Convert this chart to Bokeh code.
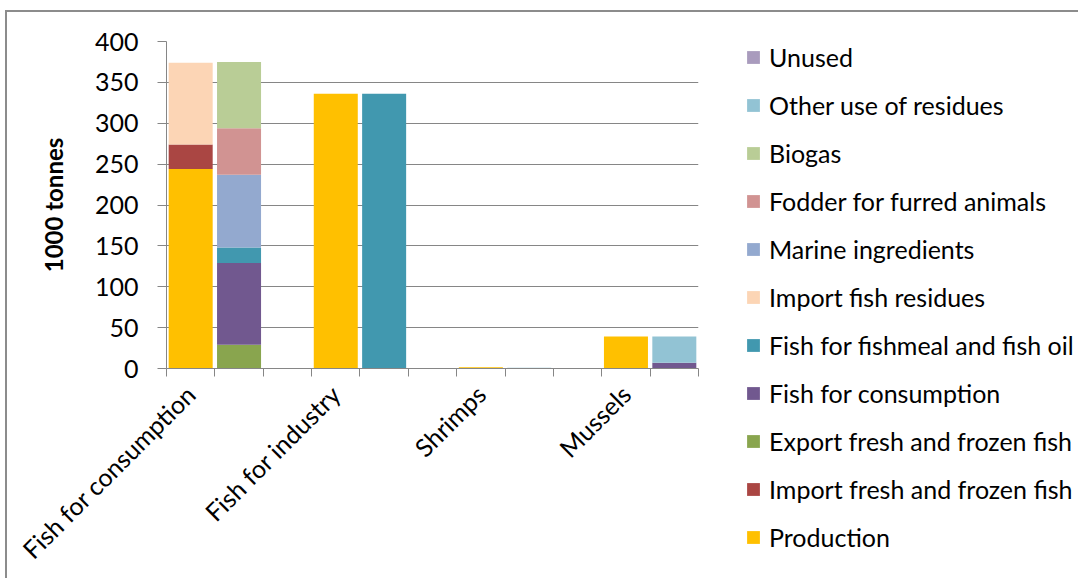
import math
from bokeh.plotting import figure
from bokeh.layouts import row
from bokeh.models import Range1d, FixedTicker, Legend, LegendItem, ColumnDataSource
from bokeh.embed import file_html
from bokeh.resources import INLINE

# ---------------- data ----------------
groups = ["Fish for consumption", "Fish for industry", "Shrimps", "Mussels"]
# each group has two bars: 0 = supply (production / imports), 1 = use
bar_group = [0, 0, 1, 1, 2, 2, 3, 3]
bar_side = [0, 1, 0, 1, 0, 1, 0, 1]

series = [
    "Production",
    "Import fresh and frozen fish",
    "Export fresh and frozen fish",
    "Fish for consumption",
    "Fish for fishmeal and fish oil",
    "Import fish residues",
    "Marine ingredients",
    "Fodder for furred animals",
    "Biogas",
    "Other use of residues",
    "Unused",
]
production = [244, 0, 336, 0, 1.5, 0, 39, 0]
import_fresh = [30, 0, 0, 0, 0, 0, 0, 0]
export_fresh = [0, 29, 0, 0, 0, 0, 0, 0]
fish_consumption = [0, 100, 0, 0, 0, 0, 0, 7]
fishmeal = [0, 19, 0, 336, 0, 0, 0, 0]
import_residues = [100, 0, 0, 0, 0, 0, 0, 0]
marine_ingredients = [0, 89, 0, 0, 0, 0, 0, 0]
fodder = [0, 57, 0, 0, 0, 0, 0, 0]
biogas = [0, 81, 0, 0, 0, 0, 0, 0]
other_use = [0, 0, 0, 0, 0, 1, 0, 32]
unused = [0, 0, 0, 0, 0, 0, 0, 0]

colors = ["#FFC000", "#AA4643", "#89A54E", "#71588F", "#4198AF", "#FCD5B5",
          "#93A9CF", "#D19392", "#B9CD96", "#92C3D4", "#A99BBD"]

y_ticks = [0, 50, 100, 150, 200, 250, 300, 350, 400]

# ---------------- build ----------------
values = [production, import_fresh, export_fresh, fish_consumption, fishmeal,
          import_residues, marine_ingredients, fodder, biogas, other_use, unused]
keys = ["s%d" % i for i in range(len(series))]
x_pos = [g * 3 + s + 0.5 for g, s in zip(bar_group, bar_side)]
data = {"x": x_pos}
for k, v in zip(keys, values):
    data[k] = v
src = ColumnDataSource(data)

FONT = "Lato"
GRAY = "#868686"

p = figure(width=699, height=566, x_range=Range1d(0, 11), y_range=Range1d(0, 400),
           min_border_left=159, min_border_right=8, min_border_top=29,
           min_border_bottom=210, output_backend="svg", toolbar_location=None)
p.frame_align = False
p.outline_line_color = None
p.background_fill_color = "white"
p.border_fill_color = "white"

rs = p.vbar_stack(keys, x="x", width=0.91, source=src, color=colors, line_color=None)

# axes
p.xgrid.visible = False
p.ygrid.grid_line_color = GRAY
p.ygrid.grid_line_width = 1

xa = p.xaxis[0]
xa.ticker = FixedTicker(ticks=[g * 3 + 0.5 for g in range(len(groups))],
                        minor_ticks=list(range(12)))
xa.major_label_overrides = {g * 3 + 0.5: name for g, name in enumerate(groups)}
xa.major_label_orientation = math.pi / 4
xa.major_tick_out = 0
xa.major_tick_in = 0
xa.minor_tick_out = 8
xa.minor_tick_in = 0
xa.minor_tick_line_color = GRAY
xa.axis_line_color = GRAY
xa.major_label_text_font = FONT
xa.major_label_text_font_size = "25px"
xa.major_label_text_color = "black"
xa.major_label_standoff = 13

ya = p.yaxis[0]
ya.ticker = FixedTicker(ticks=y_ticks)
ya.major_tick_out = 9
ya.major_tick_in = 0
ya.minor_tick_out = 0
ya.minor_tick_in = 0
ya.major_tick_line_color = GRAY
ya.axis_line_color = GRAY
ya.major_label_text_font = FONT
ya.major_label_text_font_size = "25px"
ya.major_label_text_color = "black"
ya.major_label_standoff = 19
ya.axis_label = "1000 tonnes"
ya.axis_label_text_font = FONT
ya.axis_label_text_font_size = "24px"
ya.axis_label_text_font_style = "bold"
ya.axis_label_text_color = "black"
ya.axis_label_standoff = 24

# legend panel (separate canvas to the right of the plot, no axes)
lg = figure(width=372, height=566, x_range=Range1d(100, 101), y_range=Range1d(1000, 1001),
            min_border=0, x_axis_location=None, y_axis_location=None,
            output_backend="svg", toolbar_location=None)
lg.frame_align = False
lg.grid.visible = False
lg.outline_line_color = None
lg.background_fill_color = "white"
lg.border_fill_color = "white"
# same stacked bars, out of view here: they only feed the legend swatches
lrs = lg.vbar_stack(keys, x="x", width=0.91, source=src, color=colors, line_color=None)

items = [LegendItem(label=series[i], renderers=[lrs[i]]) for i in reversed(range(len(series)))]
legend = Legend(items=items, location=(39, 26))
legend.padding = 0
legend.margin = 0
legend.spacing = 18
legend.glyph_width = 16
legend.glyph_height = 16
legend.label_height = 30
legend.label_standoff = 8
legend.label_text_font = FONT
legend.label_text_font_size = "25px"
legend.label_text_color = "black"
legend.border_line_color = None
legend.background_fill_alpha = 0
lg.add_layout(legend, "center")

layout = row(p, lg, spacing=0)
layout.styles = {"margin-left": "5px", "margin-top": "10px",
                 "border-left": "2px solid #8C8C8C", "border-top": "2px solid #8C8C8C"}

open("out.html", "w").write(file_html(layout, INLINE))
